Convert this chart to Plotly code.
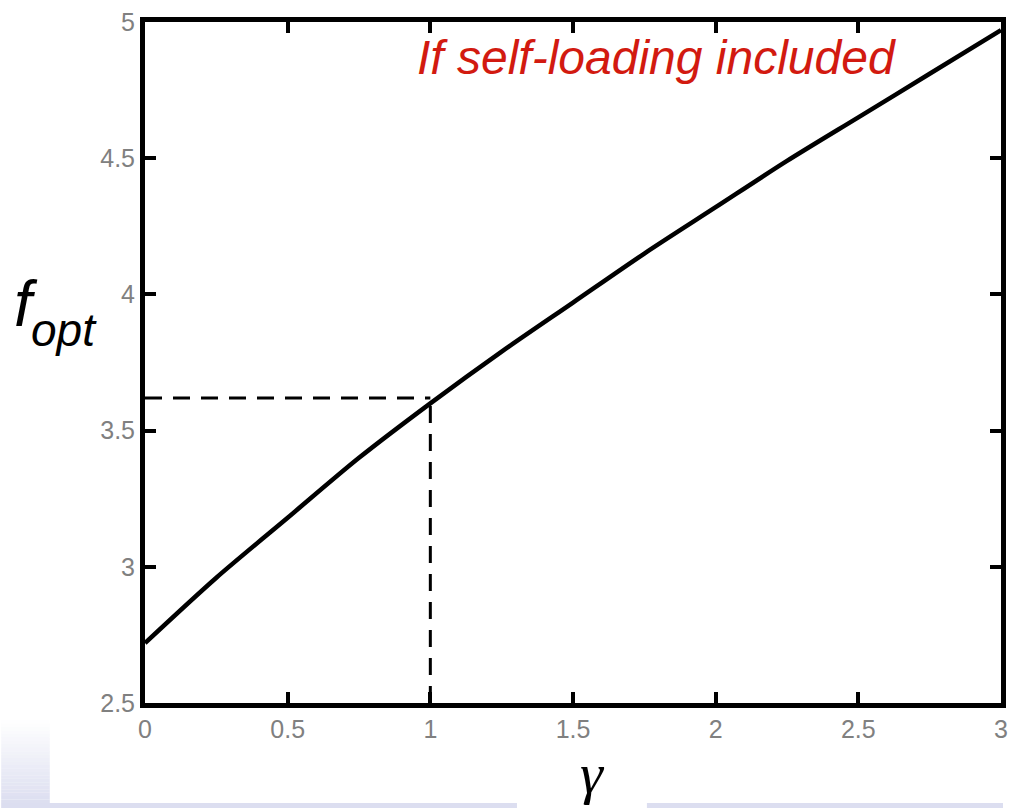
import plotly.graph_objects as go

# ---- data ----
gamma = [0.0, 0.25, 0.5, 0.75, 1.0, 1.25, 1.5, 1.75, 2.0, 2.25, 2.5, 2.75, 3.0]
f_opt = [2.72, 2.96, 3.18, 3.40, 3.60, 3.79, 3.97, 4.15, 4.32, 4.49, 4.65, 4.81, 4.97]
mark_gamma = 1.0
mark_f = 3.62
x_ticks = [0, 0.5, 1, 1.5, 2, 2.5, 3]
x_tick_text = ["0", "0.5", "1", "1.5", "2", "2.5", "3"]
y_ticks = [2.5, 3, 3.5, 4, 4.5, 5]
y_tick_text = ["2.5", "3", "3.5", "4", "4.5", "5"]
x_range = [0, 3]
y_range = [2.5, 5]
title_text = "If self-loading included"

# ---- layout geometry ----
W, H = 1010, 808
L, R, T, B = 145, 2, 22, 105


def px(xp):
    return (xp - L) / (W - L - R)


def py(yp):
    return (H - B - yp) / (H - T - B)


fig = go.Figure()

# main curve
fig.add_trace(go.Scatter(x=gamma, y=f_opt, mode="lines",
                         line=dict(color="black", width=4.5, shape="spline", smoothing=0.8),
                         hoverinfo="skip", showlegend=False))
# dashed guide lines
fig.add_trace(go.Scatter(x=[x_range[0], mark_gamma], y=[mark_f, mark_f], mode="lines",
                         line=dict(color="black", width=3, dash="17px,11px"),
                         hoverinfo="skip", showlegend=False))
fig.add_trace(go.Scatter(x=[mark_gamma, mark_gamma], y=[y_range[0], mark_f], mode="lines",
                         line=dict(color="black", width=3, dash="17px,11px"),
                         hoverinfo="skip", showlegend=False))

shapes = []
band = "#dcdef0"
# bottom band (with a gap behind the gamma label)
shapes.append(dict(type="rect", xref="paper", yref="paper", x0=px(0), x1=px(520),
                   y0=py(808), y1=py(803), fillcolor=band, line=dict(width=0), layer="below"))
shapes.append(dict(type="rect", xref="paper", yref="paper", x0=px(651), x1=px(1010),
                   y0=py(808), y1=py(803), fillcolor=band, line=dict(width=0), layer="below"))
# left gradient strip
n = 24
y_top, y_bot = 720, 803
for i in range(n):
    y0 = y_top + (y_bot - y_top) * i / n
    y1 = y_top + (y_bot - y_top) * (i + 1) / n
    t = (i + 0.5) / n
    shapes.append(dict(type="rect", xref="paper", yref="paper", x0=px(0), x1=px(49),
                       y0=py(y1), y1=py(y0), fillcolor=band, opacity=t,
                       line=dict(width=0), layer="below"))

annotations = [
    dict(text="<i>" + title_text + "</i>", xref="paper", yref="paper",
         x=px(661), y=py(58), xanchor="center", yanchor="middle", showarrow=False,
         font=dict(family="Liberation Sans", size=48, color="#d21a10")),
    dict(text="<i>f</i>", xref="paper", yref="paper",
         x=px(11), y=py(304), xanchor="left", yanchor="middle", showarrow=False,
         font=dict(family="Liberation Sans", size=64, color="black")),
    dict(text="<i>opt</i>", xref="paper", yref="paper",
         x=px(28), y=py(330), xanchor="left", yanchor="middle", showarrow=False,
         font=dict(family="Liberation Sans", size=46, color="black")),
    dict(text="<i>γ</i>", xref="paper", yref="paper",
         x=px(596), y=py(808), xanchor="center", yanchor="bottom", showarrow=False,
         font=dict(family="Liberation Serif", size=58, color="black")),
]

axis_common = dict(showline=True, linewidth=5, linecolor="black", mirror="ticks",
                   ticks="inside", ticklen=11, tickwidth=4, tickcolor="black",
                   showgrid=False, zeroline=False,
                   tickfont=dict(family="Liberation Sans", size=25, color="#808080"))

fig.update_layout(
    width=W, height=H,
    margin=dict(l=L, r=R, t=T, b=B, pad=0),
    paper_bgcolor="white", plot_bgcolor="white",
    xaxis=dict(range=x_range, tickvals=x_ticks, ticktext=x_tick_text, **axis_common),
    yaxis=dict(range=y_range, tickvals=y_ticks, ticktext=y_tick_text, **axis_common),
    shapes=shapes, annotations=annotations, showlegend=False,
)

fig.write_html("out.html", config={"displayModeBar": False},
               post_script="document.body.style.margin='0';document.body.style.padding='0';"
                           "document.documentElement.style.overflow='hidden';")
